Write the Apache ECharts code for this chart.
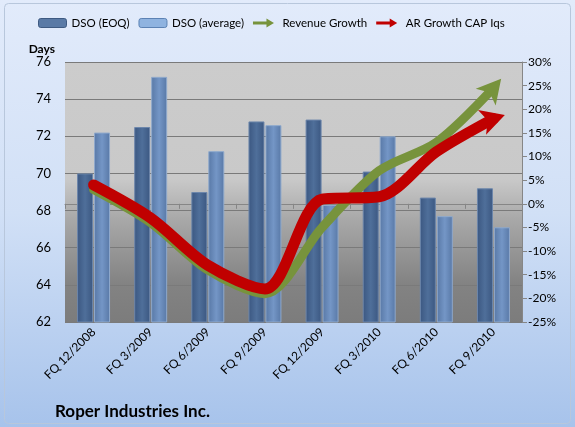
<!DOCTYPE html>
<html>
<head>
<meta charset="utf-8">
<script src="https://cdn.jsdelivr.net/npm/echarts@6/dist/echarts.min.js"></script>
<style>
  html, body { margin: 0; padding: 0; }
  #chart { width: 575px; height: 427px; }
</style>
</head>
<body>
<div id="chart"></div>
<script>
// data
var quarters = ['FQ 12/2008', 'FQ 3/2009', 'FQ 6/2009', 'FQ 9/2009', 'FQ 12/2009', 'FQ 3/2010', 'FQ 6/2010', 'FQ 9/2010'];
var dsoEoq = [70.0, 72.5, 69.0, 72.8, 72.9, 70.1, 68.7, 69.2];
var dsoAvg = [72.2, 75.2, 71.2, 72.6, 68.3, 72.0, 67.7, 67.1];
var revenueGrowth = [3, -4, -14, -19, -5, 7, 13, 24.5];
var arGrowth = [4, -3, -13, -18, 1, 1.5, 11, 18];

var chart = echarts.init(document.getElementById('chart'));
var font = 'Lato, sans-serif';
var last = quarters.length - 1;
var headPath = 'path://M0,20 L10,0 L20,20 L10,15 Z';

function barColor(top, bottom) {
    return new echarts.graphic.LinearGradient(0, 0, 1, 0, [
        { offset: 0, color: bottom },
        { offset: 0.5, color: top },
        { offset: 1, color: bottom }
    ]);
}

function arrowLine(name, values, color, width, rotate) {
    return {
        name: name,
        type: 'line',
        yAxisIndex: 1,
        data: values,
        smooth: 0.3,
        symbol: headPath,
        showAllSymbol: true,
        symbolSize: function (v, p) { return p.dataIndex === last ? [26, 24] : 0; },
        symbolRotate: function (v, p) { return rotate; },
        lineStyle: { color: color, width: width, cap: 'round' },
        itemStyle: { color: color },
        emphasis: { disabled: true }
    };
}

var arrowIcon = 'path://M0,4 L18,4 L18,0 L28,6 L18,12 L18,8 L0,8 Z';

chart.setOption({
    backgroundColor: new echarts.graphic.LinearGradient(0, 0, 0, 1, [
        { offset: 0, color: '#e2ebfb' },
        { offset: 0.5, color: '#d1e0f6' },
        { offset: 1, color: '#a7c3eb' }
    ]),
    animation: false,
    title: {
        text: 'Roper Industries Inc.',
        left: 50,
        top: 398,
        textStyle: { fontFamily: font, fontSize: 17, fontWeight: 'bold', color: '#000' }
    },
    legend: {
        top: 17,
        left: 38,
        padding: 0,
        itemGap: 9,
        itemWidth: 28,
        itemHeight: 9,
        textStyle: { fontFamily: font, fontSize: 11.5, color: '#000' },
        data: [
            { name: 'DSO (EOQ)', icon: 'roundRect', itemStyle: { color: '#5a7aa6', borderColor: '#3e5a82', borderWidth: 1 } },
            { name: 'DSO (average)', icon: 'roundRect', itemStyle: { color: '#8fb3e0', borderColor: '#5c82b4', borderWidth: 1 } },
            { name: 'Revenue Growth', icon: arrowIcon },
            { name: 'AR Growth CAP Iqs', icon: arrowIcon }
        ]
    },
    grid: {
        left: 65,
        right: 53,
        top: 62,
        bottom: 105,
        show: true,
        borderWidth: 0,
        backgroundColor: new echarts.graphic.LinearGradient(0, 0, 0, 1, [
            { offset: 0, color: '#cccccc' },
            { offset: 0.45, color: '#c9c9c9' },
            { offset: 0.6, color: '#a9a9a9' },
            { offset: 0.85, color: '#838383' },
            { offset: 1, color: '#7c7c7c' }
        ])
    },
    xAxis: {
        type: 'category',
        data: quarters,
        axisLine: { lineStyle: { color: '#868686' } },
        axisTick: { show: true, lineStyle: { color: '#868686' } },
        axisLabel: { rotate: 45, fontFamily: font, fontSize: 12, color: '#000', margin: 8 }
    },
    yAxis: [
        {
            type: 'value',
            name: 'Days',
            nameLocation: 'end',
            nameGap: 7,
            nameTextStyle: { fontFamily: font, fontSize: 12, fontWeight: 'bold', color: '#000', align: 'right', padding: [0, 10, 0, 0] },
            min: 62,
            max: 76,
            interval: 2,
            axisLine: { show: false },
            axisTick: { show: false },
            axisLabel: { fontFamily: font, fontSize: 13, color: '#000', margin: 14 },
            splitLine: { lineStyle: { color: '#7a7a7a', width: 1 } }
        },
        {
            type: 'value',
            position: 'right',
            min: -25,
            max: 30,
            interval: 5,
            axisLine: { show: true, lineStyle: { color: '#868686' } },
            axisTick: { show: true, length: 5, lineStyle: { color: '#868686' } },
            axisLabel: { formatter: '{value}%', fontFamily: font, fontSize: 12, color: '#000', margin: 6 },
            splitLine: { show: false }
        }
    ],
    series: [
        {
            name: 'DSO (EOQ)',
            type: 'bar',
            data: dsoEoq,
            barWidth: 16,
            barGap: '6%',
            itemStyle: { color: barColor('#4f6f9a', '#3b5781'), borderColor: '#6c86ab', borderWidth: 1 }
        },
        {
            name: 'DSO (average)',
            type: 'bar',
            data: dsoAvg,
            barWidth: 16,
            itemStyle: { color: barColor('#7496c6', '#5878a6'), borderColor: '#8fa9cc', borderWidth: 1 }
        },
        arrowLine('Revenue Growth', revenueGrowth, '#77933c', 9, -40),
        arrowLine('AR Growth CAP Iqs', arGrowth, '#c00000', 11, -72)
    ],
    graphic: [
        {
            type: 'rect',
            shape: { x: 4.5, y: 3.5, width: 566, height: 420, r: 4 },
            style: { fill: null, stroke: '#b8c7dc', lineWidth: 1 },
            silent: true
        }
    ]
});
</script>
</body>
</html>
